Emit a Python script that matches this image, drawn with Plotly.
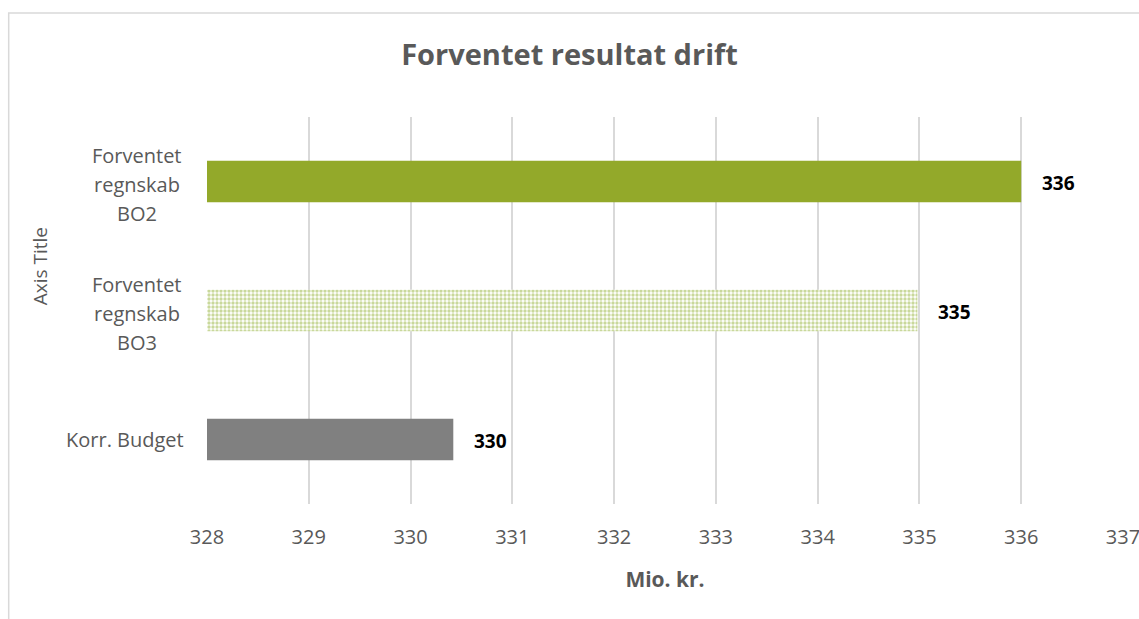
import plotly.graph_objects as go

categories = ["Korr. Budget", "Forventet regnskab BO3", "Forventet regnskab BO2"]
category_lines = [["Korr. Budget"], ["Forventet", "regnskab", "BO3"], ["Forventet", "regnskab", "BO2"]]
values = [330.42, 334.98, 336.0]
labels = ["330", "335", "336"]
solid_colors = ["#808080", None, "#93A92A"]
is_patterned = [False, True, False]
x_ticks = [328, 329, 330, 331, 332, 333, 334, 335, 336, 337]

FONT = "Open Sans, Lato, sans-serif"
GRAY = "#595959"

solid_x = [None if p else v for v, p in zip(values, is_patterned)]
pattern_x = [v if p else None for v, p in zip(values, is_patterned)]

fig = go.Figure()
fig.add_trace(go.Bar(
    y=categories, x=solid_x, orientation="h", width=0.32,
    marker=dict(color=[c if c else "#ffffff" for c in solid_colors], line=dict(width=0)),
    hoverinfo="x+y",
))
fig.add_trace(go.Bar(
    y=categories, x=pattern_x, orientation="h", width=0.32,
    marker=dict(color="#ffffff", line=dict(width=0),
                pattern=dict(shape=".", fgcolor="#93B238", size=4, solidity=0.55, fillmode="overlay")),
    hoverinfo="x+y",
))

# value labels
for v, c, t in zip(values, categories, labels):
    fig.add_annotation(x=v, y=c, text="<b>" + t + "</b>", showarrow=False, xanchor="left",
                       xshift=19, yshift=-1, font=dict(family=FONT, size=19, color="#000000"))

# category labels (one per line, Excel-like line spacing)
for c, lines in zip(categories, category_lines):
    n = len(lines)
    for i, line in enumerate(lines):
        if n == 1:
            fig.add_annotation(x=0, xref="paper", y=c, text=line, showarrow=False, xanchor="right",
                               xshift=-21, yshift=0, font=dict(family=FONT, size=20, color=GRAY))
        else:
            fig.add_annotation(x=0, xref="paper", y=c, text=line, showarrow=False, xanchor="center",
                               xshift=-70, yshift=((n - 1) / 2 - i) * 29 - 3,
                               font=dict(family=FONT, size=20, color=GRAY))

# y axis title
fig.add_annotation(x=-0.182, y=0.615, xref="paper", yref="paper", text="Axis Title", textangle=-90,
                   showarrow=False, xanchor="center", yanchor="middle",
                   font=dict(family=FONT, size=19, color=GRAY))

# chart frame
fig.add_shape(type="rect", xref="paper", yref="paper", x0=-0.2165, x1=1.2, y0=-0.5, y1=1.2687,
              line=dict(color="#d9d9d9", width=1.5), fillcolor="rgba(0,0,0,0)", layer="below")

fig.update_layout(
    width=1139, height=619,
    margin=dict(l=207, r=16, t=117, b=115, autoexpand=False),
    paper_bgcolor="white", plot_bgcolor="white",
    showlegend=False, barmode="overlay",
    font=dict(family=FONT, color=GRAY),
    title=dict(text="<b>Forventet resultat drift</b>", x=0.5, xanchor="center", y=1 - 55 / 619,
               yanchor="middle", xref="container", yref="container", font=dict(size=29, color=GRAY)),
    xaxis=dict(range=[328, 337], tickvals=x_ticks, showgrid=True, gridcolor="#d9d9d9", gridwidth=2,
               zeroline=False, showline=False, tickfont=dict(size=20, color=GRAY), ticks="",
               ticklabelstandoff=19, ticklabeloverflow="allow", automargin=False,
               title=dict(text="<b>Mio. kr.</b>", font=dict(size=21, color=GRAY), standoff=23)),
    yaxis=dict(showgrid=False, zeroline=False, showline=False, ticks="", showticklabels=False,
               automargin=False),
)

fig.write_html("out.html", config={"displayModeBar": False},
               post_script="document.body.style.margin='0';")
